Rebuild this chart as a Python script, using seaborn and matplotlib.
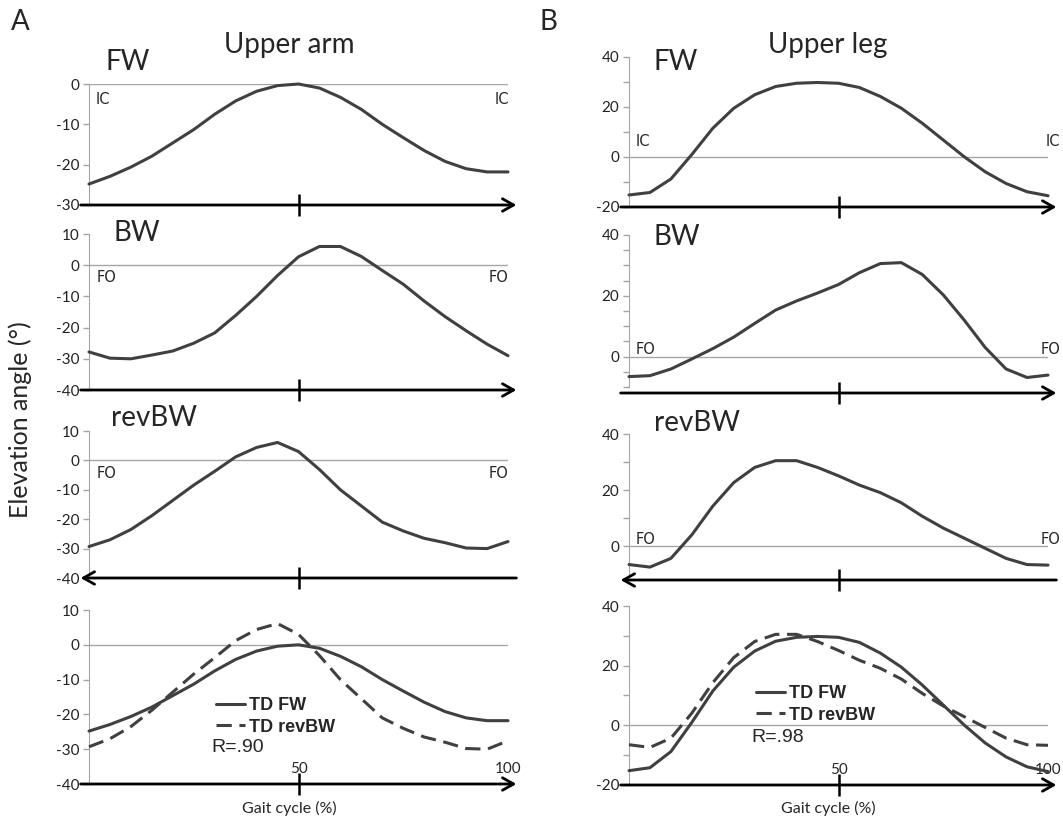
import matplotlib
matplotlib.use("Agg")
import matplotlib.pyplot as plt
import seaborn as sns

sns.set_style("white")
plt.rcParams['font.family'] = ['Lato', 'DejaVu Sans']
plt.rcParams['axes.unicode_minus'] = False

# Gait cycle (%) sampled every 5 %
pct = list(range(0, 101, 5))

# Upper arm elevation angle (deg)
arm_fw = [-24.8, -22.9, -20.6, -17.9, -14.6, -11.3, -7.5, -4.2, -1.8, -0.4, 0.0,
          -1.0, -3.3, -6.3, -10.0, -13.3, -16.5, -19.2, -21.0, -21.8, -21.8]
arm_bw = [-27.8, -29.8, -30.0, -28.8, -27.5, -25.0, -21.7, -16.1, -10.0, -3.3, 2.7,
          6.0, 6.0, 2.8, -1.7, -6.1, -11.5, -16.5, -21.0, -25.3, -29.0]
arm_rev = [-29.3, -27.0, -23.5, -18.8, -13.6, -8.4, -3.7, 1.2, 4.4, 6.1, 3.0,
           -3.1, -10.0, -15.5, -21.0, -24.0, -26.5, -28.0, -29.8, -30.0, -27.6]

# Upper leg elevation angle (deg)
leg_fw = [-15.2, -14.2, -8.8, 1.0, 11.5, 19.5, 24.9, 28.2, 29.5, 29.8, 29.5,
          27.8, 24.2, 19.5, 13.5, 6.8, 0.1, -5.9, -10.6, -13.9, -15.5]
leg_bw = [-6.6, -6.3, -4.1, -0.8, 2.6, 6.4, 10.9, 15.3, 18.3, 20.9, 23.7,
          27.6, 30.6, 30.9, 27.0, 20.3, 12.0, 3.0, -4.1, -6.9, -6.1]
leg_rev = [-6.5, -7.4, -4.3, 4.1, 14.3, 22.7, 28.1, 30.5, 30.5, 28.1, 25.1,
           21.8, 19.1, 15.5, 10.7, 6.5, 2.9, -0.7, -4.3, -6.5, -6.7]

LINE = '#404040'
GRAY = '#a6a6a6'
W, H = 1063, 824

fig = plt.figure(figsize=(W / 100, H / 100), dpi=100)


def box(l, t, r, b):
    return [l / W, 1 - b / H, (r - l) / W, (b - t) / H]


def ftext(x, y, s, **kw):
    fig.text(x / W, 1 - y / H, s, **kw)


def panel(rect, ylim, major, minor=(), spine_low=None, reverse=False, bottom=False):
    ax = fig.add_axes(rect)
    ax.patch.set_alpha(0)
    ax.set_xlim(0, 100)
    ax.set_ylim(*ylim)
    ax.set_yticks(major)
    ax.set_yticks(list(minor), minor=True)
    for s in ['top', 'right', 'bottom']:
        ax.spines[s].set_visible(False)
    ax.spines['left'].set_color(GRAY)
    if spine_low is not None:
        ax.spines['left'].set_bounds(spine_low, ylim[1])
    ax.tick_params(axis='y', which='both', left=True, direction='out', length=4,
                   width=1, color=GRAY, labelsize=11, pad=3, labelcolor='#222222')
    ax.axhline(0, color=GRAY, lw=1, zorder=1)
    # big centre tick on the arrow
    ax.xaxis.remove_overlapping_locs = False
    ax.set_xticks([50], minor=True)
    ax.tick_params(axis='x', which='minor', bottom=True, direction='inout',
                   length=16, width=1.8, color='black')
    if bottom:
        ax.set_xticks([50, 100], ['50', '100'])
        ax.tick_params(axis='x', which='major', bottom=True, length=0, pad=-16,
                       labelsize=11)
    else:
        ax.set_xticks([])
    tip, tail = (-0.02, 1.02) if reverse else (1.02, -0.02)
    ax.annotate('', xy=(tip, 0), xytext=(tail, 0), xycoords='axes fraction',
                annotation_clip=False,
                arrowprops=dict(arrowstyle='->,head_length=0.8,head_width=0.45',
                                lw=2, color='black', shrinkA=0, shrinkB=0))
    return ax


def draw(ax, y, label=None, dashed=False):
    kw = dict(linestyle=(0, (5, 2.5))) if dashed else {}
    sns.lineplot(x=pct, y=y, ax=ax, color=LINE, lw=2.2, label=label,
                 legend=False, clip_on=False, zorder=3, **kw)


arm_ticks = [-40, -30, -20, -10, 0, 10]

# Column A: upper arm
a1 = panel(box(89, 84, 508, 205), (-30, 0), [-30, -20, -10, 0])
draw(a1, arm_fw)
a2 = panel(box(89, 234, 508, 390), (-40, 10), arm_ticks)
draw(a2, arm_bw)
a3 = panel(box(89, 431, 508, 578), (-40, 10), arm_ticks, reverse=True)
draw(a3, arm_rev)
a4 = panel(box(89, 610, 508, 784), (-40, 10), arm_ticks, bottom=True)
draw(a4, arm_fw, 'TD FW')
draw(a4, arm_rev, 'TD revBW', dashed=True)

# Column B: upper leg
b1 = panel(box(629, 57, 1048, 207), (-20, 40), [-20, 0, 20, 40], range(-20, 41, 10))
draw(b1, leg_fw)
b2 = panel(box(629, 235, 1048, 393), (-12, 40), [0, 20, 40], range(-10, 41, 5),
           spine_low=-10)
draw(b2, leg_bw)
b3 = panel(box(629, 434, 1048, 580), (-12, 40), [0, 20, 40], range(0, 41, 10),
           spine_low=-10, reverse=True)
draw(b3, leg_rev)
b4 = panel(box(629, 606, 1048, 785), (-20, 40), [-20, 0, 20, 40], range(-20, 41, 10),
           bottom=True)
draw(b4, leg_fw, 'TD FW')
draw(b4, leg_rev, 'TD revBW', dashed=True)

legend_font = {'family': 'Liberation Sans', 'weight': 'bold', 'size': 13}
for ax, (lx, ly), r, (rx, ry) in [(a4, (207, 688), 'R=.90', (211, 748)),
                                  (b4, (747, 676), 'R=.98', (751, 738))]:
    ax.legend(loc='upper left', bbox_to_anchor=(lx / W, 1 - ly / H),
              bbox_transform=fig.transFigure, frameon=False, borderpad=0,
              handlelength=1.6, handletextpad=0.25, labelspacing=0.25, prop=legend_font)
    ftext(rx, ry, r, fontsize=14, family='Liberation Sans', ha='left', va='center')

# Titles and panel labels
big = dict(fontsize=20, va='center')
ftext(11, 22, 'A', ha='left', **big)
ftext(539, 22, 'B', ha='left', **big)
ftext(289, 45, 'Upper arm', ha='center', **big)
ftext(828, 45, 'Upper leg', ha='center', **big)
ftext(106, 62, 'FW', ha='left', **big)
ftext(654, 62, 'FW', ha='left', **big)
ftext(113, 233, 'BW', ha='left', **big)
ftext(654, 237, 'BW', ha='left', **big)
ftext(111, 418, 'revBW', ha='left', **big)
ftext(654, 423, 'revBW', ha='left', **big)

# Event markers
small = dict(fontsize=10.5, family='DejaVu Sans', va='center')
for s, y, xl, xr in [('IC', 100, 96, 509), ('IC', 142, 636, 1060),
                     ('FO', 277, 97, 509), ('FO', 473, 97, 509),
                     ('FO', 350, 636, 1060), ('FO', 540, 636, 1060)]:
    ftext(xl, y, s, ha='left', **small)
    ftext(xr, y, s, ha='right', **small)

ftext(20, 420, 'Elevation angle (°)', rotation=90, fontsize=18, ha='center', va='center')
ftext(289, 808, 'Gait cycle (%)', fontsize=11.5, ha='center', va='center')
ftext(828, 808, 'Gait cycle (%)', fontsize=11.5, ha='center', va='center')

fig.savefig('out.png', dpi=100)
